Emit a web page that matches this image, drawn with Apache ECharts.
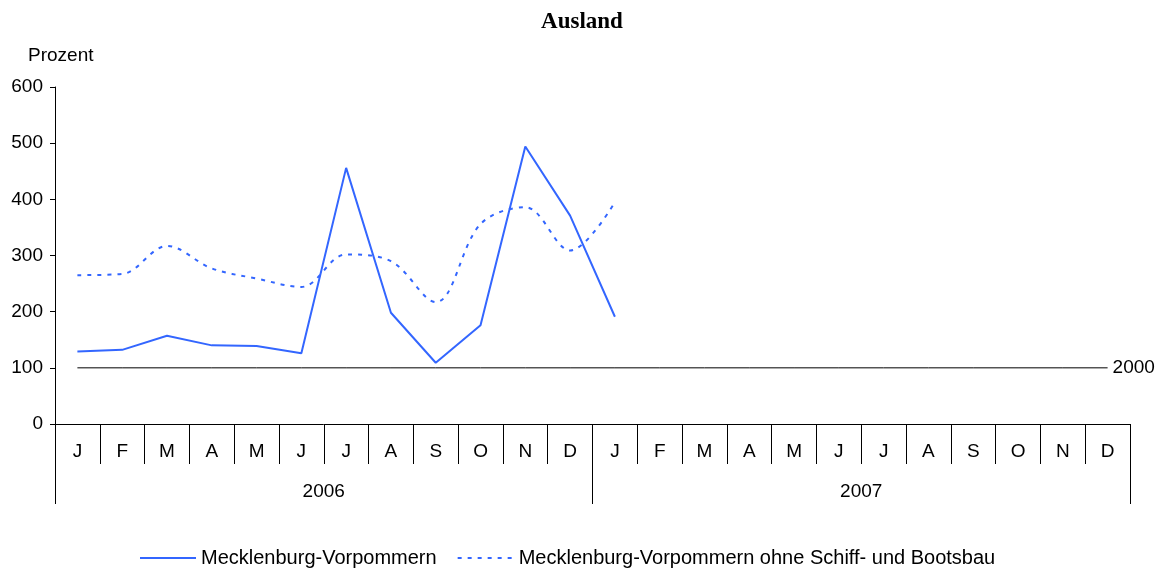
<!DOCTYPE html>
<html>
<head>
<meta charset="utf-8">
<script src="https://cdn.jsdelivr.net/npm/echarts@6/dist/echarts.min.js"></script>
<style>
  html, body { margin: 0; padding: 0; background: #fff; }
  #container { width: 1164px; height: 571px; }
</style>
</head>
<body>
<div id="container"></div>
<script>
const months = ['J', 'F', 'M', 'A', 'M', 'J', 'J', 'A', 'S', 'O', 'N', 'D',
                'J', 'F', 'M', 'A', 'M', 'J', 'J', 'A', 'S', 'O', 'N', 'D'];
const years = ['2006', '2007'];
const mvTotal = [129, 132, 157, 140, 139, 126, 456, 198, 109, 176, 494, 371, 191];
const mvOhneSchiffbau = [265, 267, 317, 277, 259, 244, 302, 290, 217, 356, 386, 309, 395];
const basis2000 = [100, 100, 100, 100, 100, 100, 100, 100, 100, 100, 100, 100,
                   100, 100, 100, 100, 100, 100, 100, 100, 100, 100, 100, 100];
const yTicks = { min: 0, max: 600, interval: 100 };

window.onload = function () {
    const dom = document.getElementById("container");
    const myChart = echarts.init(dom);
    const font = 'Liberation Sans';
    const blue = '#3366ff';
    const fs = 19;

    const option = {
        animation: false,
        backgroundColor: '#fff',
        textStyle: { fontFamily: font, color: '#000' },
        title: {
            text: 'Ausland',
            left: 'center',
            top: 6,
            textStyle: { fontFamily: 'Liberation Serif', fontWeight: 'bold', fontSize: 23, color: '#000' }
        },
        graphic: [{
            type: 'text',
            left: 28,
            top: 46,
            style: { text: 'Prozent', font: fs + 'px "Liberation Sans"', fill: '#000' }
        }],
        grid: { left: 55, right: 34, top: 87, bottom: 147 },
        legend: {
            left: 134,
            top: 543,
            itemWidth: 56,
            itemHeight: 12,
            itemGap: 20,
            itemStyle: { opacity: 0 },
            textStyle: { fontFamily: font, fontSize: 20, color: '#000' },
            data: ['Mecklenburg-Vorpommern', 'Mecklenburg-Vorpommern ohne Schiff- und Bootsbau']
        },
        xAxis: [{
            type: 'category',
            data: months,
            boundaryGap: true,
            position: 'bottom',
            axisLine: { lineStyle: { color: '#000', width: 1 } },
            axisTick: { show: true, length: 40, interval: 0, lineStyle: { color: '#000' } },
            axisLabel: { interval: 0, margin: 18, fontSize: fs, color: '#000', fontFamily: font },
            splitLine: { show: false }
        }, {
            type: 'category',
            data: years,
            position: 'bottom',
            offset: 0,
            axisLine: { show: false },
            axisTick: { show: true, length: 80, interval: 0, lineStyle: { color: '#000' } },
            axisLabel: { interval: 0, margin: 58, fontSize: fs, color: '#000', fontFamily: font },
            splitLine: { show: false }
        }],
        yAxis: {
            type: 'value',
            min: yTicks.min,
            max: yTicks.max,
            interval: yTicks.interval,
            axisLine: { show: true, lineStyle: { color: '#000', width: 1 } },
            axisTick: { show: true, length: 5, lineStyle: { color: '#000' } },
            axisLabel: { margin: 12, fontSize: fs, color: '#000', fontFamily: font },
            splitLine: { show: false }
        },
        series: [{
            name: 'Mecklenburg-Vorpommern',
            type: 'line',
            data: mvTotal,
            symbol: 'none',
            lineStyle: { color: blue, width: 2 },
            itemStyle: { color: blue },
            z: 3
        }, {
            name: 'Mecklenburg-Vorpommern ohne Schiff- und Bootsbau',
            type: 'line',
            data: mvOhneSchiffbau,
            symbol: 'none',
            smooth: 0.35,
            lineStyle: { color: blue, width: 2, type: [4, 6] },
            itemStyle: { color: blue },
            z: 3
        }, {
            name: '2000',
            type: 'line',
            data: basis2000,
            symbol: 'none',
            lineStyle: { color: '#000', width: 1 },
            itemStyle: { color: '#000' },
            endLabel: {
                show: true,
                formatter: '2000',
                distance: 5,
                fontSize: fs,
                color: '#000',
                fontFamily: font
            },
            z: 2
        }]
    };
    myChart.setOption(option);
};
</script>
</body>
</html>
